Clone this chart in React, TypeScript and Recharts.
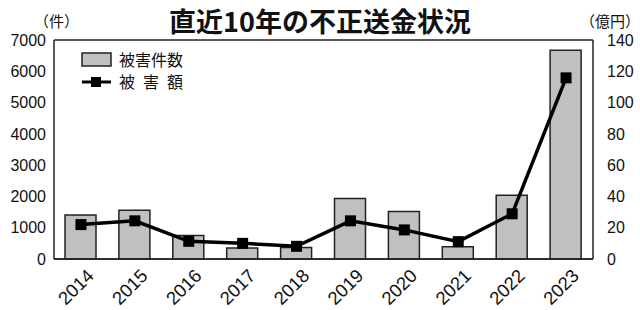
import {
  ComposedChart,
  Bar,
  Line,
  XAxis,
  YAxis,
  CartesianGrid,
} from "recharts";

const years = ["2014", "2015", "2016", "2017", "2018", "2019", "2020", "2021", "2022", "2023"];
const cases = [1410, 1560, 750, 355, 370, 1930, 1520, 390, 2040, 6670];
const amounts = [22.0, 24.4, 11.3, 10.0, 8.1, 24.4, 18.6, 11.1, 28.9, 115.8];
const leftTicks = [0, 1000, 2000, 3000, 4000, 5000, 6000, 7000];
const rightTicks = [0, 20, 40, 60, 80, 100, 120, 140];

const data = years.map((y, i) => ({ year: y, cases: cases[i], amount: amounts[i] }));

const FONT = "Liberation Sans, Arial, sans-serif";
const JP = "Noto Sans CJK JP, sans-serif";

const YearTick = (props: any) => {
  const { x, y, payload } = props;
  const tx = x + 14;
  const ty = y + 10;
  return (
    <text
      x={tx}
      y={ty}
      textAnchor="end"
      fontSize={18.5}
      fontFamily={FONT}
      fill="#111"
      transform={`rotate(-45, ${tx}, ${ty})`}
    >
      {payload.value}
    </text>
  );
};

const SquareDot = (props: any) => {
  const { cx, cy } = props;
  return <rect x={cx - 5.5} y={cy - 5.5} width={11} height={11} fill="#000" />;
};

const LegendBox = () => (
  <svg width={170} height={50} style={{ position: "absolute", left: 81, top: 48 }}>
    <rect x={1} y={5} width={29} height={13} fill="#c0c0c0" stroke="#222" strokeWidth={1.5} />
    <text x={38} y={18} fontSize={16} fontFamily={JP} fill="#111">被害件数</text>
    <line x1={1} y1={34} x2={30} y2={34} stroke="#000" strokeWidth={3} />
    <rect x={10} y={29} width={10} height={10} fill="#000" />
    <text x={38} y={40} fontSize={16} fontFamily={JP} letterSpacing={8} fill="#111">被害額</text>
  </svg>
);

export default function App() {
  return (
    <div
      style={{
        position: "absolute",
        left: 0,
        top: 0,
        width: 640,
        height: 310,
        background: "#fff",
        fontFamily: FONT,
      }}
    >
      <ComposedChart
        width={640}
        height={310}
        data={data}
        margin={{ top: 40, right: 0, left: 0, bottom: 0 }}
        barSize={31}
        style={{ fontFamily: FONT }}
      >
        <CartesianGrid horizontal vertical={false} stroke="#222" strokeWidth={1.5} />
        <XAxis
          dataKey="year"
          height={51}
          tick={<YearTick />}
          tickLine={false}
          axisLine={{ stroke: "#222", strokeWidth: 1.5 }}
          interval={0}
        />
        <YAxis
          yAxisId="left"
          width={54}
          domain={[0, 7000]}
          ticks={leftTicks}
          tickLine={false}
          axisLine={{ stroke: "#222", strokeWidth: 1.5 }}
          tick={{ fontSize: 16, fill: "#111" }}
          tickMargin={2}
        />
        <YAxis
          yAxisId="right"
          orientation="right"
          width={47}
          domain={[0, 140]}
          ticks={rightTicks}
          tickLine={false}
          axisLine={{ stroke: "#222", strokeWidth: 1.5 }}
          tick={{ fontSize: 16, fill: "#111" }}
          tickMargin={8}
        />
        <Bar
          yAxisId="left"
          dataKey="cases"
          fill="#c0c0c0"
          stroke="#222"
          strokeWidth={1.5}
          isAnimationActive={false}
        />
        <Line
          yAxisId="right"
          dataKey="amount"
          type="linear"
          stroke="#000"
          strokeWidth={3.5}
          dot={<SquareDot />}
          activeDot={false}
          isAnimationActive={false}
        />
      </ComposedChart>
      <div
        style={{
          position: "absolute",
          left: 0,
          top: 4,
          width: 640,
          textAlign: "center",
          fontFamily: JP,
          fontWeight: 700,
          fontSize: 27,
          color: "#111",
          lineHeight: "34px",
        }}
      >
        直近10年の不正送金状況
      </div>
      <div style={{ position: "absolute", left: 34, top: 10, fontFamily: JP, fontSize: 15, color: "#111" }}>
        （件）
      </div>
      <div style={{ position: "absolute", left: 580, top: 10, fontFamily: JP, fontSize: 15, color: "#111" }}>
        （億円）
      </div>
      <LegendBox />
    </div>
  );
}
